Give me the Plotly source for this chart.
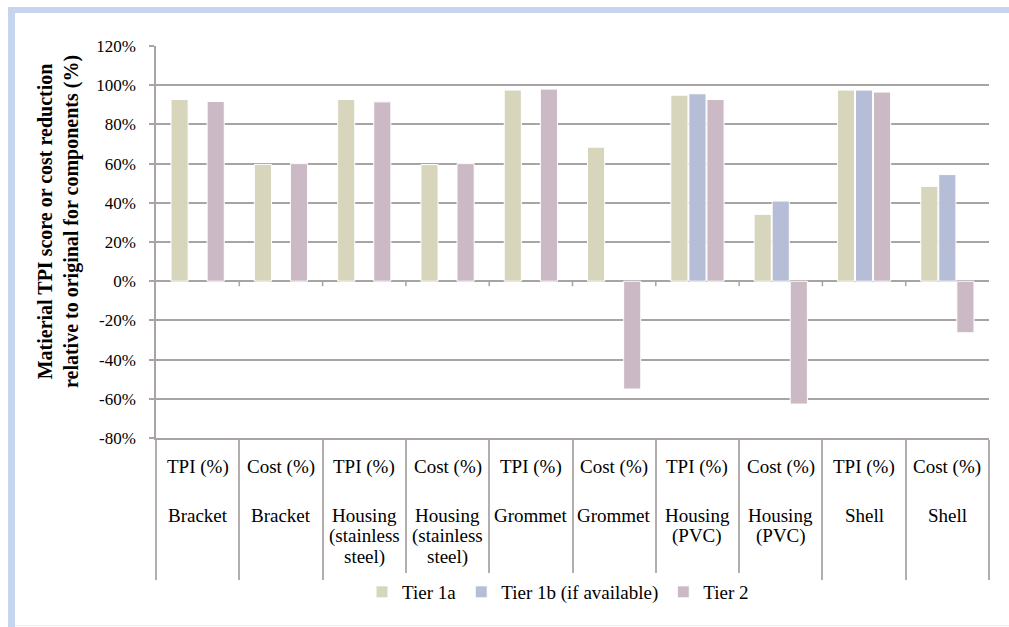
import plotly.graph_objects as go

measures = ["TPI (%)", "Cost (%)", "TPI (%)", "Cost (%)", "TPI (%)", "Cost (%)",
            "TPI (%)", "Cost (%)", "TPI (%)", "Cost (%)"]
components = ["Bracket", "Bracket", "Housing<br>(stainless<br>steel)", "Housing<br>(stainless<br>steel)",
              "Grommet", "Grommet", "Housing<br>(PVC)", "Housing<br>(PVC)", "Shell", "Shell"]

tier1a = [92.7, 59.6, 92.7, 59.5, 97.5, 68.4, 94.9, 34.1, 97.5, 48.4]
tier1b = [None, None, None, None, None, None, 95.6, 40.9, 97.5, 54.4]
tier2 = [91.7, 60.0, 91.5, 60.0, 98.0, -55.0, 92.7, -62.7, 96.5, -26.3]

series_names = ["Tier 1a", "Tier 1b (if available)", "Tier 2"]
series_colors = ["#d7d6bd", "#b5bed6", "#cbbac6"]

y_ticks = [-80, -60, -40, -20, 0, 20, 40, 60, 80, 100, 120]
y_tick_labels = ["-80%", "-60%", "-40%", "-20%", "0%", "20%", "40%", "60%", "80%", "100%", "120%"]

FONT = "Liberation Serif, Times New Roman, serif"
GRID = "#aaa3a3"
SEP = "#b3adad"

n = len(measures)
xs = list(range(n))

fig = go.Figure()
for name, vals, col in zip(series_names, [tier1a, tier1b, tier2], series_colors):
    fig.add_trace(go.Bar(x=xs, y=vals, name=name,
                         marker=dict(color=col, line=dict(color="white", width=1))))

# plot area in pixels: left 156, right 989, top 46, bottom 438
L, R, T, B = 156, 989, 46, 438
W, H = 1009, 627
pw, ph = R - L, B - T

def px_x(px):
    return (px - L) / pw

def px_y(py):
    return (B - py) / ph

CAT_SIZE = 19
annotations = []
for i in range(n):
    annotations.append(dict(x=i, y=0, xref="x", yref="paper", text=measures[i],
                            showarrow=False, yanchor="middle", yshift=-(467 - B),
                            font=dict(family=FONT, size=CAT_SIZE, color="#000")))
    for k, line in enumerate(components[i].split("<br>")):
        annotations.append(dict(x=i, y=0, xref="x", yref="paper", text=line,
                                showarrow=False, yanchor="middle", yshift=-(515 + 21 * k - B),
                                font=dict(family=FONT, size=CAT_SIZE, color="#000")))

annotations.append(dict(x=px_x(58), y=px_y(222), xref="paper", yref="paper",
                        text="<b>Matierial TPI score or cost reduction<br>relative to original for components (%)</b>",
                        showarrow=False, textangle=-90, xanchor="center", yanchor="middle",
                        font=dict(family=FONT, size=20, color="#000")))

shapes = []
# small ticks below zero line at category boundaries
for i in range(1, n):
    shapes.append(dict(type="line", xref="x", yref="y", x0=i - 0.5, x1=i - 0.5,
                       y0=0, y1=-2.6, line=dict(color=GRID, width=1.5)))
# decorative frame
shapes.append(dict(type="rect", xref="paper", yref="paper",
                   x0=px_x(8), x1=px_x(1009), y0=px_y(7), y1=px_y(13),
                   fillcolor="#c6d4ee", line=dict(width=0), layer="below"))
shapes.append(dict(type="rect", xref="paper", yref="paper",
                   x0=px_x(8), x1=px_x(15), y0=px_y(7), y1=px_y(627),
                   fillcolor="#c6d4ee", line=dict(width=0), layer="below"))
shapes.append(dict(type="line", xref="paper", yref="paper",
                   x0=px_x(15), x1=px_x(1009), y0=px_y(625.5), y1=px_y(625.5),
                   line=dict(color="#ececf0", width=1), layer="below"))

fig.update_layout(
    width=W, height=H,
    margin=dict(l=L, r=W - R, t=T, b=H - B),
    paper_bgcolor="white", plot_bgcolor="white",
    font=dict(family=FONT, size=16, color="#000"),
    barmode="group", bargap=0.35, bargroupgap=0.05,
    showlegend=True,
    legend=dict(orientation="h", x=px_x(558), xanchor="center", y=px_y(592), yanchor="middle",
                font=dict(family=FONT, size=19, color="#000"), itemwidth=30,
                traceorder="normal"),
    annotations=annotations, shapes=shapes,
    xaxis=dict(range=[-0.5, n - 0.5], tickvals=[i - 0.5 for i in range(n + 1)],
               showticklabels=False, ticks="outside", ticklen=140, tickwidth=1.5, tickcolor=SEP,
               showline=True, linecolor=GRID, linewidth=1.5, showgrid=False, zeroline=False),
    yaxis=dict(range=[-80, 120], tickmode="array", tickvals=y_ticks, ticktext=y_tick_labels,
               ticks="outside", ticklen=5, tickcolor=GRID, tickwidth=1.5,
               ticklabelstandoff=10,
               showline=True, linecolor=GRID, linewidth=1.5,
               showgrid=True, gridcolor=GRID, gridwidth=1.5, zeroline=False,
               tickfont=dict(family=FONT, size=17, color="#000")),
)

fig.write_html("out.html", config={"displayModeBar": False},
               post_script="document.body.style.margin='0';")
